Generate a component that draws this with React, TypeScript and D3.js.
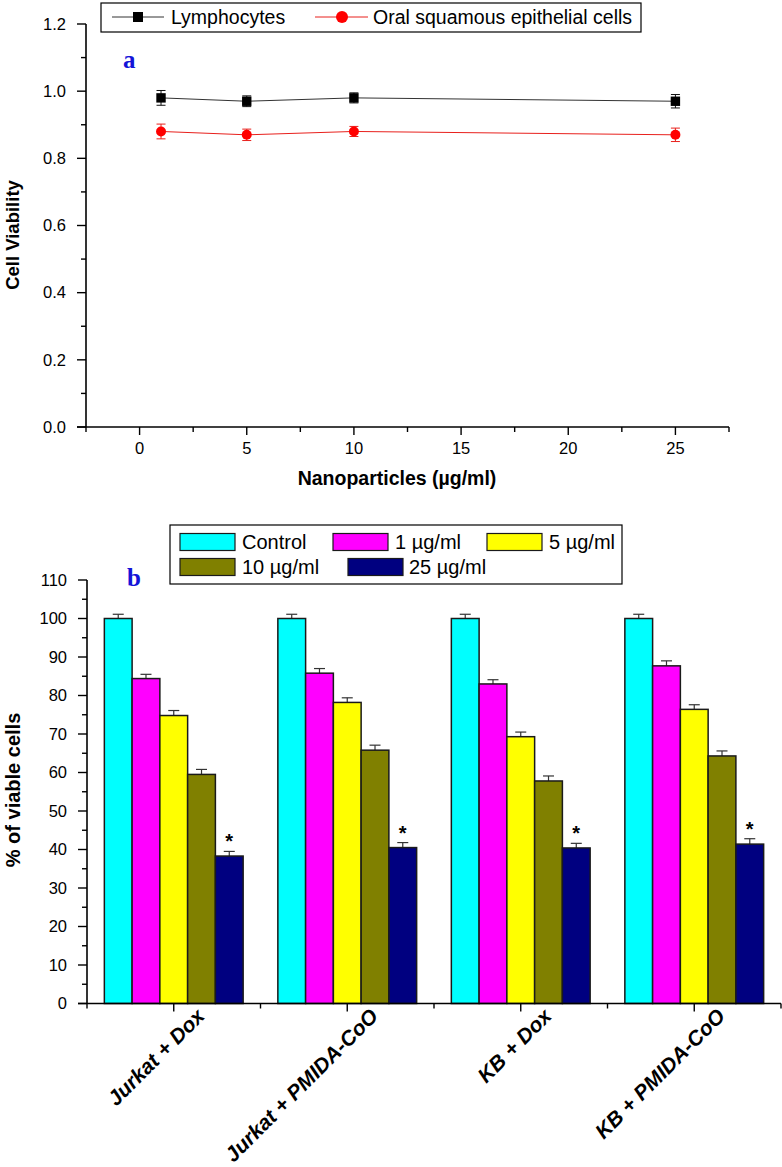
import React from 'react';
import * as d3 from 'd3';

// ---------- Panel a data ----------
const doses = [1, 5, 10, 25];
const lymphocytes = [0.98, 0.97, 0.98, 0.97];
const lymphErr = [0.022, 0.016, 0.015, 0.02];
const oralCells = [0.88, 0.87, 0.88, 0.87];
const oralErr = [0.022, 0.017, 0.015, 0.02];
const xTicksA = [0, 5, 10, 15, 20, 25];
const xMinorA = [-2.5, 2.5, 7.5, 12.5, 17.5, 22.5, 27.5];
const yTicksA = [0, 0.2, 0.4, 0.6, 0.8, 1.0, 1.2];
const yMinorA = [0.1, 0.3, 0.5, 0.7, 0.9, 1.1];

// ---------- Panel b data ----------
const groups = ['Jurkat + Dox', 'Jurkat + PMIDA-CoO', 'KB + Dox', 'KB + PMIDA-CoO'];
const seriesNames = ['Control', '1 µg/ml', '5 µg/ml', '10 µg/ml', '25 µg/ml'];
const seriesColors = ['#00FFFF', '#FF00FF', '#FFFF00', '#808000', '#000080'];
const controlVals = [100, 100, 100, 100];
const dose1Vals = [84.4, 85.8, 83.0, 87.7];
const dose5Vals = [74.8, 78.2, 69.3, 76.4];
const dose10Vals = [59.5, 65.8, 57.8, 64.3];
const dose25Vals = [38.3, 40.5, 40.4, 41.4];
const controlErr = [1.1, 1.1, 1.1, 1.1];
const dose1Err = [1.1, 1.2, 1.1, 1.3];
const dose5Err = [1.3, 1.2, 1.2, 1.2];
const dose10Err = [1.3, 1.3, 1.3, 1.3];
const dose25Err = [1.2, 1.3, 1.2, 1.4];
const yTicksB = [0, 10, 20, 30, 40, 50, 60, 70, 80, 90, 100, 110];
const yMinorB = [5, 15, 25, 35, 45, 55, 65, 75, 85, 95, 105];

const seriesVals = [controlVals, dose1Vals, dose5Vals, dose10Vals, dose25Vals];
const seriesErrs = [controlErr, dose1Err, dose5Err, dose10Err, dose25Err];

const FONT = '"Liberation Sans", Arial, Helvetica, sans-serif';

export default function App() {
  // Panel a scales
  const xA = d3.scaleLinear().domain([-2.5, 27.5]).range([86, 729]);
  const yA = d3.scaleLinear().domain([0, 1.2]).range([427, 24]);
  const lineGen = d3.line<number>().x((_, i) => xA(doses[i])).y((d) => yA(d));

  // Panel b scales
  const xB = d3.scaleBand<string>().domain(groups).range([87, 781]).padding(0);
  const bw = xB.bandwidth();
  const inner = d3.scaleBand<string>().domain(seriesNames).range([bw * 0.1, bw * 0.9]).padding(0);
  const yB = d3.scaleLinear().domain([0, 110]).range([1003.5, 580]);

  const axisA = '#000';

  return (
    <svg width={782} height={1167} style={{ position: 'absolute', left: 0, top: 0, background: '#fff' }} fontFamily={FONT}>
      <rect x={0} y={0} width={782} height={1167} fill="#fff" />
      {/* ================= Panel a ================= */}
      <line x1={xA(-2.5)} x2={xA(-2.5)} y1={yA(1.2)} y2={yA(0)} stroke={axisA} strokeWidth={1.6} />
      <line x1={xA(-2.5) - 9} x2={xA(27.5)} y1={yA(0)} y2={yA(0)} stroke={axisA} strokeWidth={1.6} />
      {yTicksA.map((t) => (
        <g key={'ya' + t}>
          <line x1={xA(-2.5) - 9} x2={xA(-2.5)} y1={yA(t)} y2={yA(t)} stroke={axisA} strokeWidth={1.4} />
          <text x={xA(-2.5) - 20} y={yA(t)} dy="0.35em" textAnchor="end" fontSize={16.5}>
            {t.toFixed(1)}
          </text>
        </g>
      ))}
      {yMinorA.map((t) => (
        <line key={'yam' + t} x1={xA(-2.5) - 5} x2={xA(-2.5)} y1={yA(t)} y2={yA(t)} stroke={axisA} strokeWidth={1.4} />
      ))}
      {xTicksA.map((t) => (
        <g key={'xa' + t}>
          <line x1={xA(t)} x2={xA(t)} y1={yA(0)} y2={yA(0) + 8} stroke={axisA} strokeWidth={1.4} />
          <text x={xA(t)} y={yA(0) + 27} textAnchor="middle" fontSize={16.5}>
            {t}
          </text>
        </g>
      ))}
      {xMinorA.map((t) => (
        <line key={'xam' + t} x1={xA(t)} x2={xA(t)} y1={yA(0)} y2={yA(0) + 5} stroke={axisA} strokeWidth={1.4} />
      ))}
      <text x={397} y={485} textAnchor="middle" fontSize={19.5} fontWeight="bold">
        Nanoparticles (µg/ml)
      </text>
      <text transform="translate(19,235) rotate(-90)" textAnchor="middle" fontSize={18.5} fontWeight="bold">
        Cell Viability
      </text>
      <text x={123} y={68} fontFamily='"Liberation Serif", "Times New Roman", serif' fontWeight="bold" fontSize={25} fill="#1414d8">
        a
      </text>

      <path d={lineGen(lymphocytes) || ''} fill="none" stroke="#333" strokeWidth={1} />
      <path d={lineGen(oralCells) || ''} fill="none" stroke="#e8201c" strokeWidth={1} />
      {lymphocytes.map((v, i) => {
        const cx = xA(doses[i]);
        return (
          <g key={'lp' + i}>
            <line x1={cx} x2={cx} y1={yA(v + lymphErr[i])} y2={yA(v - lymphErr[i])} stroke="#111" strokeWidth={1} />
            <line x1={cx - 4.5} x2={cx + 4.5} y1={yA(v + lymphErr[i])} y2={yA(v + lymphErr[i])} stroke="#111" strokeWidth={1} />
            <line x1={cx - 4.5} x2={cx + 4.5} y1={yA(v - lymphErr[i])} y2={yA(v - lymphErr[i])} stroke="#111" strokeWidth={1} />
            <rect x={cx - 4.7} y={yA(v) - 4.7} width={9.4} height={9.4} fill="#000" />
          </g>
        );
      })}
      {oralCells.map((v, i) => {
        const cx = xA(doses[i]);
        return (
          <g key={'op' + i}>
            <line x1={cx} x2={cx} y1={yA(v + oralErr[i])} y2={yA(v - oralErr[i])} stroke="#e8201c" strokeWidth={1} />
            <line x1={cx - 4.5} x2={cx + 4.5} y1={yA(v + oralErr[i])} y2={yA(v + oralErr[i])} stroke="#e8201c" strokeWidth={1} />
            <line x1={cx - 4.5} x2={cx + 4.5} y1={yA(v - oralErr[i])} y2={yA(v - oralErr[i])} stroke="#e8201c" strokeWidth={1} />
            <circle cx={cx} cy={yA(v)} r={5} fill="#ff0000" />
          </g>
        );
      })}

      {/* legend a */}
      <rect x={101} y={3} width={540} height={29} fill="#fff" stroke="#000" strokeWidth={1.2} />
      <line x1={112} x2={164} y1={17} y2={17} stroke="#333" strokeWidth={1} />
      <rect x={138 - 5} y={12} width={10} height={10} fill="#000" />
      <text x={171} y={17} dy="0.35em" fontSize={19.5}>
        Lymphocytes
      </text>
      <line x1={315} x2={368} y1={17} y2={17} stroke="#e8201c" strokeWidth={1} />
      <circle cx={342} cy={17} r={6} fill="#ff0000" />
      <text x={373} y={17} dy="0.35em" fontSize={19.5}>
        Oral squamous epithelial cells
      </text>

      {/* ================= Panel b ================= */}
      {groups.map((g, gi) => (
        <g key={'grp' + gi} transform={`translate(${xB(g)},0)`}>
          {seriesNames.map((s, si) => {
            const v = seriesVals[si][gi];
            const e = seriesErrs[si][gi];
            const x0 = inner(s) as number;
            const w = inner.bandwidth();
            const cx = x0 + w / 2;
            return (
              <g key={'bar' + si}>
                <line x1={cx} x2={cx} y1={yB(v)} y2={yB(v + e)} stroke="#333" strokeWidth={1.2} />
                <line x1={cx - 5.5} x2={cx + 5.5} y1={yB(v + e)} y2={yB(v + e)} stroke="#333" strokeWidth={1.2} />
                <rect x={x0} y={yB(v)} width={w} height={yB(0) - yB(v)} fill={seriesColors[si]} stroke="#1a1a1a" strokeWidth={1.5} />
                {si === 4 && (
                  <text x={cx} y={yB(v + e) - 3} textAnchor="middle" fontSize={20} fontWeight="bold">
                    *
                  </text>
                )}
              </g>
            );
          })}
        </g>
      ))}
      <line x1={87} x2={87} y1={yB(110)} y2={yB(0)} stroke="#000" strokeWidth={1.6} />
      <line x1={78} x2={781} y1={yB(0)} y2={yB(0)} stroke="#000" strokeWidth={1.6} />
      {yTicksB.map((t) => (
        <g key={'yb' + t}>
          <line x1={78} x2={87} y1={yB(t)} y2={yB(t)} stroke="#000" strokeWidth={1.4} />
          <text x={67} y={yB(t)} dy="0.35em" textAnchor="end" fontSize={16.5}>
            {t}
          </text>
        </g>
      ))}
      {yMinorB.map((t) => (
        <line key={'ybm' + t} x1={82} x2={87} y1={yB(t)} y2={yB(t)} stroke="#000" strokeWidth={1.4} />
      ))}
      {groups.map((g) => (
        <line key={'xbm' + g} x1={xB(g)} x2={xB(g)} y1={yB(0)} y2={yB(0) + 5} stroke="#000" strokeWidth={1.4} />
      ))}
      <line x1={781} x2={781} y1={yB(0)} y2={yB(0) + 5} stroke="#000" strokeWidth={1.4} />
      {groups.map((g) => {
        const cx = (xB(g) as number) + bw / 2;
        return (
          <g key={'xb' + g}>
            <line x1={cx} x2={cx} y1={yB(0)} y2={yB(0) + 8} stroke="#000" strokeWidth={1.4} />
            <text
              transform={`translate(${cx + 32},${yB(0) + 14}) rotate(-45)`}
              textAnchor="end"
              fontSize={21}
              fontWeight="bold"
              fontStyle="italic"
            >
              {g}
            </text>
          </g>
        );
      })}
      <text transform="translate(20,790) rotate(-90)" textAnchor="middle" fontSize={20} fontWeight="bold">
        % of viable cells
      </text>
      <text x={127} y={586} fontFamily='"Liberation Serif", "Times New Roman", serif' fontWeight="bold" fontSize={25} fill="#1414d8">
        b
      </text>

      {/* legend b */}
      <rect x={170} y={525} width={452} height={59} fill="#fff" stroke="#000" strokeWidth={1.2} />
      {[
        { i: 0, x: 180, y: 542, tx: 242 },
        { i: 1, x: 333, y: 542, tx: 395 },
        { i: 2, x: 487, y: 542, tx: 549 },
        { i: 3, x: 180, y: 567, tx: 242 },
        { i: 4, x: 348, y: 567, tx: 409 },
      ].map((l) => (
        <g key={'lg' + l.i}>
          <rect x={l.x} y={l.y - 8.5} width={55} height={17} fill={seriesColors[l.i]} stroke="#1a1a1a" strokeWidth={1.2} />
          <text x={l.tx} y={l.y} dy="0.36em" fontSize={20}>
            {seriesNames[l.i]}
          </text>
        </g>
      ))}
    </svg>
  );
}
